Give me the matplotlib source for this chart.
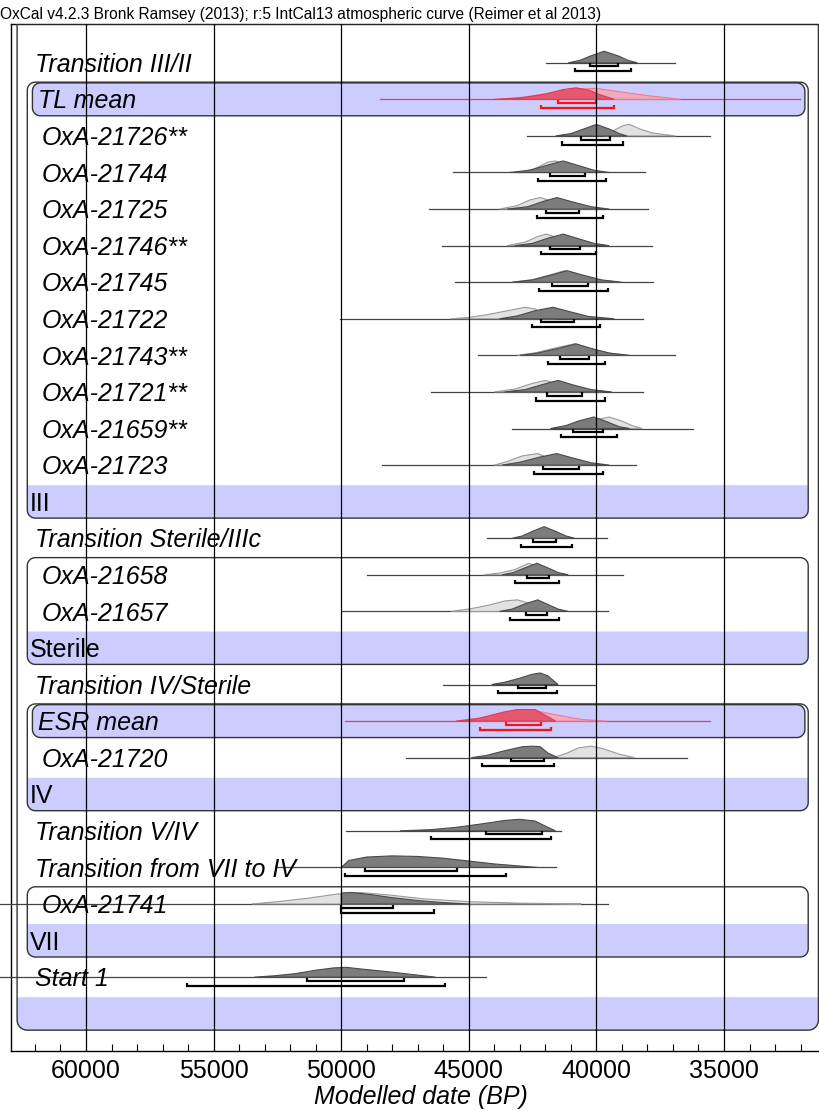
import numpy as np
import matplotlib.pyplot as plt
from matplotlib.patches import Polygon

plt.rcParams['font.family'] = ['Liberation Sans', 'DejaVu Sans']

# dates, top to bottom (row index on the plot)
names = ['Transition III/II', 'TL mean', 'OxA-21726**', 'OxA-21744', 'OxA-21725',
         'OxA-21746**', 'OxA-21745', 'OxA-21722', 'OxA-21743**', 'OxA-21721**',
         'OxA-21659**', 'OxA-21723', 'Transition Sterile/IIIc', 'OxA-21658',
         'OxA-21657', 'Transition IV/Sterile', 'ESR mean', 'OxA-21720',
         'Transition V/IV', 'Transition from VII to IV', 'OxA-21741', 'Start 1']
rows = [0, 1, 2, 3, 4, 5, 6, 7, 8, 9, 10, 11, 13, 14, 15, 17, 18, 19, 21, 22, 23, 25]

# extent of the thin baseline of each distribution (BP)
line_old = [41980, 48480, 42720, 45620, 46560, 46050, 45540, 50050, 44640, 46480, 43310,
            48400, 44290, 48990, 49970, 46010, 49850, 47460, 49810, 52520, 63400, 63400]
line_young = [36920, 32020, 35550, 38100, 37980, 37820, 37780, 38180, 36920, 38180, 36220,
              38450, 39590, 38960, 39550, 40060, 35550, 36450, 41390, 41580, 39550, 44330]

# 68.2% and 95.4% highest posterior density ranges (BP)
r68_old = [40250, 41505, 40600, 41820, 41975, 41820, 41740, 42170, 41425, 41935, 40915,
           42095, 42485, 42720, 42760, 43075, 43545, 43345, 44325, 49065, 50000, 51340]
r68_young = [39155, 40015, 39465, 40445, 40680, 40645, 40330, 40880, 40290, 40565, 39740,
             40680, 41585, 41860, 41935, 41975, 42170, 42055, 42130, 45460, 47970, 47540]
r95_old = [40840, 42170, 41350, 42290, 42330, 42170, 42250, 42525, 41895, 42365, 41385,
           42445, 42955, 43190, 43385, 43855, 44560, 44485, 46480, 49850, 50000, 56040]
r95_young = [38645, 39310, 38960, 39625, 39740, 40015, 39545, 39860, 39665, 39665, 39195,
             39740, 40955, 41465, 41465, 41545, 41780, 41660, 41780, 43540, 46365, 45930]

# modelled (posterior) distributions: (date BP, relative height)
posterior = [
    [(41100, 0), (40650, .2), (40220, .6), (39700, 1), (39150, .6), (38750, .2), (38400, 0)],
    [(44000, 0), (43000, .12), (42000, .45), (41300, .85), (40800, 1), (40300, .8), (39800, .35), (39300, 0)],
    [(41600, 0), (41000, .2), (40500, .6), (40000, 1), (39500, .6), (39100, .2), (38800, 0)],
    [(43400, 0), (42600, .2), (41900, .65), (41300, 1), (40700, .6), (40100, .2), (39500, 0)],
    [(43500, 0), (42700, .2), (42100, .65), (41550, 1), (40900, .6), (40200, .2), (39500, 0)],
    [(43200, 0), (42500, .2), (41900, .65), (41300, 1), (40700, .6), (40100, .2), (39500, 0)],
    [(43300, 0), (42500, .2), (41800, .6), (41150, 1), (40500, .6), (39800, .2), (39000, 0)],
    [(43800, 0), (43100, .25), (42400, .7), (41700, 1), (41100, .65), (40300, .2), (39300, 0)],
    [(43000, 0), (42300, .2), (41500, .6), (40800, 1), (40200, .6), (39500, .2), (38700, 0)],
    [(43600, 0), (42800, .2), (42100, .65), (41500, 1), (40900, .6), (40200, .2), (39400, 0)],
    [(41800, 0), (41200, .25), (40700, .65), (40100, 1), (39600, .6), (39100, .15), (38700, 0)],
    [(43700, 0), (43000, .25), (42200, .7), (41550, 1), (40900, .6), (40200, .2), (39500, 0)],
    [(43300, 0), (42900, .2), (42450, .65), (42050, 1), (41600, .6), (41200, .2), (40850, 0)],
    [(43700, 0), (43250, .2), (42750, .65), (42330, 1), (41900, .6), (41500, .2), (41100, 0)],
    [(43800, 0), (43300, .2), (42800, .65), (42300, 1), (41900, .6), (41500, .2), (41100, 0)],
    [(44100, 0), (43600, .2), (43000, .55), (42500, .9), (42200, 1), (41900, .75), (41500, 0)],
    [(45500, 0), (44600, .25), (43600, .8), (43100, 1), (42400, 1), (42000, .5), (41600, 0)],
    [(44900, 0), (44300, .2), (43600, .6), (42900, .95), (42500, 1), (42200, .95), (41900, .4), (41500, 0)],
    [(47700, 0), (46500, .1), (45500, .3), (44500, .6), (43600, .9), (43000, 1), (42400, .85), (41900, .3), (41600, 0)],
    [(50000, 0), (49700, .6), (49000, .9), (48000, 1), (47000, .95), (46000, .8), (45000, .55), (44000, .3),
     (43000, .12), (42300, 0)],
    [(50000, 0), (50000, .95), (49600, 1), (48800, .8), (48000, .55), (47000, .3), (46000, .12), (45000, 0)],
    [(53400, 0), (52600, .12), (51800, .3), (51000, .6), (50300, .8), (49800, .85), (49200, .7), (48300, .5),
     (47500, .3), (46800, .12), (46300, 0)],
]

# unmodelled likelihoods (None where only a posterior is shown)
likelihood = [
    None,
    [(43900, 0), (42800, .2), (41700, .6), (40600, .9), (40000, .95), (38900, .6), (37900, .3), (36700, 0)],
    [(39700, 0), (39300, .5), (38950, .9), (38700, 1), (38300, .6), (37800, .25), (36900, 0)],
    [(43000, 0), (42400, .35), (41900, .9), (41600, 1), (41000, .6), (40300, .2), (39700, 0)],
    [(43800, 0), (43100, .3), (42600, .8), (42200, 1), (41600, .6), (40900, .2), (40000, 0)],
    [(43500, 0), (42800, .3), (42300, .8), (41950, 1), (41400, .6), (40700, .2), (39900, 0)],
    [(43300, 0), (42500, .22), (41800, .65), (41250, 1), (40600, .6), (39900, .2), (39100, 0)],
    [(45700, 0), (45000, .12), (44300, .35), (43600, .65), (42800, 1), (42400, .85), (42000, .3), (41600, 0)],
    [(43100, 0), (42400, .22), (41600, .65), (40850, 1), (40200, .55), (39500, .2), (38800, 0)],
    [(44000, 0), (43200, .25), (42500, .75), (42000, 1), (41400, .6), (40600, .2), (39700, 0)],
    [(41000, 0), (40500, .3), (40000, .75), (39500, 1), (39000, .65), (38600, .25), (38200, 0)],
    [(44000, 0), (43500, .3), (42900, .8), (42300, 1), (41800, .55), (41200, .2), (40600, 0)],
    None,
    [(44400, 0), (43800, .15), (43200, .45), (42650, 1), (42200, .6), (41700, .2), (41200, 0)],
    [(45700, 0), (45000, .2), (44300, .5), (43600, .9), (43100, 1), (42700, .75), (42300, .25), (41900, 0)],
    None,
    [(45000, 0), (44000, .4), (43200, .9), (42600, 1), (41600, .55), (40600, .15), (39600, 0)],
    [(41700, 0), (41200, .35), (40700, .85), (40200, 1), (39700, .75), (39100, .3), (38500, 0)],
    None,
    None,
    [(53500, 0), (52500, .2), (51300, .5), (50200, .85), (49300, 1), (48200, .8), (46800, .45), (45000, .2),
     (43000, .07), (40600, 0)],
    None,
]

means = ['TL mean', 'ESR mean']

# phases: name, first row inside, row of the name band
phases = ['III', 'Sterile', 'IV', 'VII', '']
phase_first = [1, 14, 18, 23, 0]
phase_label = [12, 16, 20, 24, 26]

LAV = '#ccccff'
HS = 0.315          # peak height of a distribution, in rows

fig = plt.figure(figsize=(8.2, 11.11), dpi=100)
ax = fig.add_axes([11 / 820, 60 / 1111, 819 / 820, 1027 / 1111])
ax.set_xlim(62939, 30846)
ax.set_ylim(27.02, -1.06)


def rbox(x0, x1, y0, y1, r=8, top=True, bottom=True, **kw):
    # rectangle with rounded corners, radius given in pixels
    T = ax.transData
    (l, t), (rr, b) = T.transform([(x0, y0), (x1, y1)])
    a = np.linspace(0, np.pi / 2, 8)
    pts = []
    if top:
        pts += list(zip(l + r - r * np.cos(a), t - r + r * np.sin(a)))
        pts += list(zip(rr - r + r * np.sin(a), t - r + r * np.cos(a)))
    else:
        pts += [(l, t), (rr, t)]
    if bottom:
        pts += list(zip(rr - r + r * np.cos(a), b + r - r * np.sin(a)))
        pts += list(zip(l + r - r * np.sin(a), b + r - r * np.cos(a)))
    else:
        pts += [(rr, b), (l, b)]
    p = Polygon(T.inverted().transform(pts), closed=True, **kw)
    ax.add_patch(p)


# phase boxes with their name bands
for name, first, lab in zip(phases, phase_first, phase_label):
    if name == '':
        x0, x1, top = 62700, 31300, -1.06
        rbox(x0, x1, lab - 0.45, lab + 0.45, r=10, top=False, fc=LAV, ec='none', zorder=1)
        rbox(x0, x1, top, lab + 0.45, r=10, top=False, fc='none', ec='#333333', lw=1, zorder=4)
    else:
        x0, x1, top = 62300, 31700, first - 0.47
        rbox(x0, x1, lab - 0.45, lab + 0.45, top=False, fc=LAV, ec='none', zorder=1)
        rbox(x0, x1, top, lab + 0.45, fc='none', ec='#333333', lw=1, zorder=4)
    ax.text(62194, lab + 0.25, name, fontsize=18, va='baseline', ha='left', zorder=6)

for name, row in zip(names, rows):
    if name in means:
        rbox(62100, 31830, row - 0.45, row + 0.45, fc=LAV, ec='#333333', lw=1, zorder=2)

# distributions, baselines and ranges
for i, (name, row) in enumerate(zip(names, rows)):
    red = name in means
    if red:
        cols = dict(lf='#f2a9b8', le='#ec7d92', pf='#e5586d', pe='#dd3a55', ln='#f03a55', br='#ff1010')
    else:
        cols = dict(lf='#e2e2e2', le='#9a9a9a', pf='#7c7c7c', pe='#4a4a4a', ln='#444444', br='black')
    ax.plot([line_old[i], line_young[i]], [row, row], color=cols['ln'], lw=0.9, zorder=3,
            clip_on=False)
    if likelihood[i] is not None:
        xs, hs = zip(*likelihood[i])
        ax.fill(xs, [row - h * HS for h in hs], fc=cols['lf'], ec=cols['le'], lw=0.8, zorder=3)
    xs, hs = zip(*posterior[i])
    ax.fill(xs, [row - h * HS for h in hs], fc=cols['pf'], ec=cols['pe'], lw=0.8, zorder=3)
    for a, b, dy in [(r68_old[i], r68_young[i], 0.1), (r95_old[i], r95_young[i], 0.235)]:
        y = row + dy
        ax.plot([a, a, b, b], [y - 0.085, y, y, y - 0.085], color=cols['br'], lw=1.6,
                solid_joinstyle='miter', solid_capstyle='butt', zorder=5)

    if red:
        x = 61881
    elif name.startswith('Transition') or name.startswith('Start'):
        x = 61998
    else:
        x = 61724
    ax.text(x, row + 0.25, name, fontsize=18, style='italic', va='baseline', ha='left', zorder=6)

# date grid
major = [60000, 55000, 50000, 45000, 40000, 35000]
for v in major:
    ax.axvline(v, color='black', lw=0.9, zorder=10)

ax.set_xticks(major)
ax.set_xticklabels([str(v) for v in major], fontsize=18)
ax.set_xticks(np.arange(31000, 63000, 1000), minor=True)
ax.tick_params(axis='x', which='major', direction='in', length=0, pad=6)
ax.tick_params(axis='x', which='minor', direction='in', length=5, width=0.8)
ax.set_yticks([])
ax.spines['right'].set_visible(False)
for s in ['left', 'top', 'bottom']:
    ax.spines[s].set_linewidth(1)
ax.set_xlabel('Modelled date (BP)', fontsize=18, style='italic', va='center')
ax.xaxis.set_label_coords(0.5, -0.0448)

fig.text(0.0, 1 - 14 / 1111,
         'OxCal v4.2.3 Bronk Ramsey (2013); r:5 IntCal13 atmospheric curve (Reimer et al 2013)',
         fontsize=11.2, va='center', ha='left')

fig.savefig('out.png', dpi=100)
